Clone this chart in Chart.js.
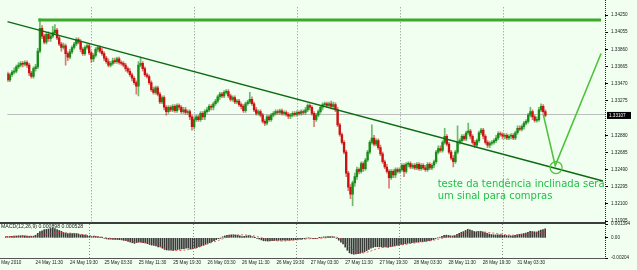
<!DOCTYPE html>
<html>
<head>
<meta charset="utf-8">
<script src="https://cdn.jsdelivr.net/npm/chart.js@4.4.1/dist/chart.umd.min.js"></script>
<style>
  html, body { margin: 0; padding: 0; background: #F0FFF0; }
  #wrap { position: relative; width: 637px; height: 270px; overflow: hidden; }
  #wrap canvas { position: absolute; left: 0; top: 0; }
</style>
</head>
<body>
<div id="wrap">
  <canvas id="price" width="637" height="270"></canvas>
  <canvas id="macd" width="637" height="270"></canvas>
</div>
<script>
// M30 candles, 24 May 2010 04:30 .. 31 May 2010
var opens = [
  1.3358,1.3351,1.3357,1.3360,1.3361,1.3366,1.3368,1.3370,1.3369,1.3371,
  1.3368,1.3359,1.3355,1.3364,1.3366,1.3384,1.3410,1.3401,1.3394,1.3403,
  1.3398,1.3401,1.3405,1.3408,1.3399,1.3392,1.3388,1.3390,1.3381,1.3377,
  1.3383,1.3388,1.3392,1.3397,1.3394,1.3386,1.3381,1.3388,1.3390,1.3382,
  1.3375,1.3379,1.3386,1.3388,1.3384,1.3381,1.3376,1.3372,1.3368,1.3370,
  1.3373,1.3372,1.3375,1.3371,1.3370,1.3368,1.3364,1.3361,1.3357,1.3353,
  1.3348,1.3344,1.3368,1.3370,1.3364,1.3357,1.3355,1.3348,1.3340,1.3337,
  1.3342,1.3335,1.3326,1.3331,1.3320,1.3315,1.3320,1.3317,1.3321,1.3316,
  1.3322,1.3320,1.3315,1.3317,1.3314,1.3315,1.3309,1.3298,1.3306,1.3309,
  1.3306,1.3313,1.3309,1.3315,1.3317,1.3321,1.3320,1.3324,1.3327,1.3332,
  1.3335,1.3333,1.3337,1.3338,1.3333,1.3329,1.3331,1.3326,1.3327,1.3323,
  1.3321,1.3316,1.3324,1.3326,1.3329,1.3324,1.3317,1.3313,1.3315,1.3311,
  1.3304,1.3302,1.3309,1.3306,1.3311,1.3313,1.3315,1.3314,1.3316,1.3313,
  1.3314,1.3312,1.3310,1.3311,1.3313,1.3312,1.3314,1.3313,1.3315,1.3314,
  1.3317,1.3322,1.3320,1.3313,1.3306,1.3311,1.3315,1.3320,1.3323,1.3324,
  1.3322,1.3324,1.3321,1.3323,1.3317,1.3300,1.3289,1.3280,1.3269,1.3245,
  1.3229,1.3221,1.3234,1.3241,1.3249,1.3247,1.3256,1.3250,1.3260,1.3269,
  1.3280,1.3285,1.3278,1.3282,1.3274,1.3267,1.3258,1.3252,1.3247,1.3240,
  1.3247,1.3243,1.3249,1.3247,1.3249,1.3254,1.3247,1.3255,1.3256,1.3252,
  1.3254,1.3251,1.3255,1.3250,1.3254,1.3251,1.3249,1.3255,1.3251,1.3254,
  1.3258,1.3269,1.3273,1.3271,1.3280,1.3287,1.3278,1.3269,1.3262,1.3258,
  1.3269,1.3280,1.3282,1.3287,1.3284,1.3291,1.3293,1.3287,1.3280,1.3277,
  1.3282,1.3291,1.3294,1.3287,1.3280,1.3277,1.3279,1.3280,1.3282,1.3285,
  1.3290,1.3289,1.3287,1.3288,1.3285,1.3287,1.3288,1.3285,1.3291,1.3296,
  1.3295,1.3298,1.3302,1.3304,1.3311,1.3315,1.3309,1.3305,1.3306,1.3317,
  1.3321,1.3315
];
var highs = [
  1.3360,1.3359,1.3362,1.3365,1.3368,1.3371,1.3372,1.3372,1.3373,1.3373,
  1.3370,1.3361,1.3366,1.3369,1.3387,1.3421,1.3413,1.3403,1.3405,1.3406,
  1.3404,1.3412,1.3414,1.3410,1.3401,1.3394,1.3393,1.3392,1.3383,1.3386,
  1.3390,1.3394,1.3399,1.3399,1.3397,1.3388,1.3390,1.3392,1.3392,1.3384,
  1.3381,1.3388,1.3390,1.3390,1.3387,1.3383,1.3378,1.3375,1.3372,1.3376,
  1.3376,1.3377,1.3377,1.3373,1.3372,1.3370,1.3366,1.3364,1.3359,1.3355,
  1.3350,1.3372,1.3377,1.3372,1.3366,1.3359,1.3357,1.3350,1.3343,1.3344,
  1.3344,1.3337,1.3333,1.3333,1.3322,1.3322,1.3322,1.3323,1.3323,1.3324,
  1.3324,1.3322,1.3320,1.3320,1.3317,1.3317,1.3311,1.3309,1.3311,1.3311,
  1.3315,1.3315,1.3317,1.3320,1.3323,1.3323,1.3326,1.3329,1.3334,1.3337,
  1.3337,1.3339,1.3340,1.3340,1.3335,1.3333,1.3333,1.3329,1.3329,1.3325,
  1.3323,1.3326,1.3328,1.3337,1.3332,1.3326,1.3320,1.3317,1.3317,1.3313,
  1.3306,1.3311,1.3311,1.3313,1.3315,1.3317,1.3317,1.3318,1.3318,1.3316,
  1.3316,1.3314,1.3313,1.3315,1.3315,1.3316,1.3316,1.3317,1.3317,1.3320,
  1.3324,1.3324,1.3322,1.3315,1.3313,1.3317,1.3322,1.3325,1.3326,1.3326,
  1.3326,1.3327,1.3326,1.3325,1.3320,1.3302,1.3291,1.3282,1.3271,1.3247,
  1.3232,1.3236,1.3245,1.3252,1.3251,1.3258,1.3258,1.3262,1.3271,1.3282,
  1.3300,1.3288,1.3284,1.3284,1.3277,1.3269,1.3260,1.3255,1.3249,1.3249,
  1.3249,1.3251,1.3251,1.3251,1.3256,1.3256,1.3257,1.3258,1.3258,1.3256,
  1.3256,1.3257,1.3257,1.3256,1.3256,1.3254,1.3257,1.3257,1.3256,1.3260,
  1.3271,1.3276,1.3276,1.3282,1.3296,1.3289,1.3280,1.3271,1.3265,1.3271,
  1.3299,1.3284,1.3289,1.3289,1.3293,1.3302,1.3295,1.3289,1.3282,1.3284,
  1.3293,1.3296,1.3296,1.3289,1.3282,1.3281,1.3282,1.3284,1.3288,1.3292,
  1.3292,1.3291,1.3290,1.3290,1.3289,1.3290,1.3290,1.3293,1.3299,1.3299,
  1.3300,1.3304,1.3306,1.3313,1.3320,1.3317,1.3311,1.3309,1.3320,1.3324,
  1.3323,1.3317
];
var lows = [
  1.3349,1.3349,1.3355,1.3358,1.3359,1.3364,1.3366,1.3366,1.3367,1.3365,
  1.3356,1.3353,1.3353,1.3361,1.3364,1.3382,1.3398,1.3392,1.3392,1.3395,
  1.3395,1.3399,1.3403,1.3397,1.3390,1.3384,1.3386,1.3368,1.3373,1.3375,
  1.3381,1.3386,1.3390,1.3392,1.3383,1.3379,1.3379,1.3386,1.3380,1.3371,
  1.3372,1.3377,1.3383,1.3382,1.3379,1.3373,1.3370,1.3366,1.3366,1.3368,
  1.3370,1.3370,1.3369,1.3368,1.3366,1.3361,1.3359,1.3355,1.3350,1.3346,
  1.3335,1.3333,1.3366,1.3361,1.3355,1.3353,1.3346,1.3338,1.3335,1.3335,
  1.3333,1.3324,1.3324,1.3317,1.3311,1.3313,1.3315,1.3315,1.3314,1.3314,
  1.3317,1.3313,1.3313,1.3312,1.3312,1.3306,1.3294,1.3295,1.3304,1.3304,
  1.3304,1.3306,1.3306,1.3313,1.3315,1.3317,1.3317,1.3322,1.3325,1.3329,
  1.3331,1.3331,1.3335,1.3331,1.3327,1.3327,1.3324,1.3324,1.3321,1.3318,
  1.3314,1.3314,1.3322,1.3324,1.3322,1.3315,1.3311,1.3311,1.3309,1.3302,
  1.3299,1.3300,1.3304,1.3304,1.3309,1.3311,1.3312,1.3312,1.3311,1.3311,
  1.3310,1.3307,1.3307,1.3309,1.3310,1.3310,1.3311,1.3311,1.3312,1.3312,
  1.3315,1.3317,1.3311,1.3298,1.3304,1.3309,1.3313,1.3317,1.3321,1.3320,
  1.3320,1.3318,1.3318,1.3315,1.3298,1.3287,1.3278,1.3267,1.3241,1.3225,
  1.3216,1.3208,1.3230,1.3238,1.3244,1.3245,1.3247,1.3248,1.3258,1.3267,
  1.3278,1.3276,1.3276,1.3272,1.3265,1.3256,1.3250,1.3245,1.3228,1.3238,
  1.3240,1.3240,1.3245,1.3245,1.3247,1.3241,1.3245,1.3252,1.3250,1.3250,
  1.3249,1.3249,1.3248,1.3248,1.3249,1.3247,1.3247,1.3249,1.3249,1.3251,
  1.3256,1.3267,1.3269,1.3269,1.3278,1.3276,1.3267,1.3260,1.3252,1.3256,
  1.3267,1.3278,1.3280,1.3282,1.3282,1.3289,1.3284,1.3278,1.3274,1.3274,
  1.3280,1.3289,1.3284,1.3278,1.3274,1.3274,1.3277,1.3278,1.3280,1.3283,
  1.3287,1.3284,1.3284,1.3283,1.3283,1.3284,1.3283,1.3283,1.3289,1.3293,
  1.3293,1.3295,1.3300,1.3302,1.3309,1.3306,1.3303,1.3303,1.3304,1.3315,
  1.3313,1.3309
];
var closes = [
  1.3351,1.3357,1.3360,1.3361,1.3366,1.3368,1.3370,1.3369,1.3371,1.3368,
  1.3359,1.3355,1.3364,1.3366,1.3384,1.3410,1.3401,1.3394,1.3403,1.3398,
  1.3401,1.3405,1.3408,1.3399,1.3392,1.3388,1.3390,1.3381,1.3377,1.3383,
  1.3388,1.3392,1.3397,1.3394,1.3386,1.3381,1.3388,1.3390,1.3382,1.3375,
  1.3379,1.3386,1.3388,1.3384,1.3381,1.3376,1.3372,1.3368,1.3370,1.3373,
  1.3372,1.3375,1.3371,1.3370,1.3368,1.3364,1.3361,1.3357,1.3353,1.3348,
  1.3344,1.3368,1.3370,1.3364,1.3357,1.3355,1.3348,1.3340,1.3337,1.3342,
  1.3335,1.3326,1.3331,1.3320,1.3315,1.3320,1.3317,1.3321,1.3316,1.3322,
  1.3320,1.3315,1.3317,1.3314,1.3315,1.3309,1.3298,1.3306,1.3309,1.3306,
  1.3313,1.3309,1.3315,1.3317,1.3321,1.3320,1.3324,1.3327,1.3332,1.3335,
  1.3333,1.3337,1.3338,1.3333,1.3329,1.3331,1.3326,1.3327,1.3323,1.3321,
  1.3316,1.3324,1.3326,1.3329,1.3324,1.3317,1.3313,1.3315,1.3311,1.3304,
  1.3302,1.3309,1.3306,1.3311,1.3313,1.3315,1.3314,1.3316,1.3313,1.3314,
  1.3312,1.3310,1.3311,1.3313,1.3312,1.3314,1.3313,1.3315,1.3314,1.3317,
  1.3322,1.3320,1.3313,1.3306,1.3311,1.3315,1.3320,1.3323,1.3324,1.3322,
  1.3324,1.3321,1.3323,1.3317,1.3300,1.3289,1.3280,1.3269,1.3245,1.3229,
  1.3221,1.3234,1.3241,1.3249,1.3247,1.3256,1.3250,1.3260,1.3269,1.3280,
  1.3285,1.3278,1.3282,1.3274,1.3267,1.3258,1.3252,1.3247,1.3240,1.3247,
  1.3243,1.3249,1.3247,1.3249,1.3254,1.3247,1.3255,1.3256,1.3252,1.3254,
  1.3251,1.3255,1.3250,1.3254,1.3251,1.3249,1.3255,1.3251,1.3254,1.3258,
  1.3269,1.3273,1.3271,1.3280,1.3287,1.3278,1.3269,1.3262,1.3258,1.3269,
  1.3280,1.3282,1.3287,1.3284,1.3291,1.3293,1.3287,1.3280,1.3277,1.3282,
  1.3291,1.3294,1.3287,1.3280,1.3277,1.3279,1.3280,1.3282,1.3285,1.3290,
  1.3289,1.3287,1.3288,1.3285,1.3287,1.3288,1.3285,1.3291,1.3296,1.3295,
  1.3298,1.3302,1.3304,1.3311,1.3315,1.3309,1.3305,1.3306,1.3317,1.3321,
  1.3315,1.33107
];

// MACD(12,26,9), values in units of 0.0001
var macdMain = [
  1.0,1.2,1.3,1.5,1.7,1.8,2.0,2.1,2.2,2.1,
  1.8,1.4,1.5,1.6,2.6,4.5,6.2,7.0,8.2,8.5,
  8.9,9.4,9.8,9.2,8.3,7.4,6.5,5.3,4.5,4.3,
  4.2,4.3,4.4,4.2,3.6,3.0,2.9,2.7,2.2,1.4,
  1.3,1.5,1.4,1.1,0.7,0.1,-0.5,-1.1,-1.4,-1.5,
  -1.6,-1.7,-1.8,-1.9,-2.1,-2.6,-3.0,-3.6,-4.3,-5.0,
  -5.6,-4.8,-4.3,-4.4,-4.8,-5.2,-5.9,-6.8,-7.4,-7.6,
  -8.2,-9.1,-9.2,-10.5,-11.8,-12.3,-12.6,-12.6,-12.8,-12.3,
  -11.8,-11.6,-11.2,-11.0,-10.5,-10.4,-11.3,-10.9,-10.4,-9.9,
  -8.9,-8.3,-7.5,-6.6,-5.7,-4.9,-4.0,-3.0,-1.9,-0.9,
  -0.3,1.0,1.9,2.4,2.7,3.0,3.1,2.9,2.5,2.0,
  1.3,1.5,1.8,2.2,1.7,1.0,0.1,-0.5,-1.2,-2.1,
  -3.0,-3.1,-3.3,-3.2,-3.0,-2.8,-2.6,-2.5,-2.5,-2.4,
  -2.4,-2.5,-2.4,-2.2,-2.0,-1.8,-1.6,-1.4,-1.2,-0.9,
  -0.3,0.0,-0.4,-1.0,-0.9,-0.5,0.1,0.6,0.9,1.1,
  1.3,1.2,1.2,0.8,-0.6,-2.4,-4.3,-6.3,-9.4,-12.6,
  -15.2,-16.2,-16.6,-16.3,-16.0,-15.5,-14.8,-14.0,-12.9,-11.7,
  -10.4,-9.8,-9.0,-9.0,-9.0,-9.2,-9.3,-9.3,-9.6,-9.0,
  -8.6,-8.0,-7.6,-7.2,-6.7,-6.6,-6.0,-5.6,-5.3,-5.0,
  -4.7,-4.3,-4.1,-3.8,-3.9,-3.6,-3.1,-2.8,-2.4,-1.8,
  -0.8,0.0,0.6,1.5,2.5,2.7,2.4,2.0,1.7,2.2,
  3.6,4.6,5.6,6.3,7.4,8.6,8.0,7.2,6.3,6.0,
  6.4,6.6,6.0,5.2,4.4,3.8,3.3,3.0,2.9,3.0,
  2.9,2.7,2.5,2.3,2.1,2.0,1.9,2.4,3.1,3.5,
  3.8,4.3,4.8,5.6,6.5,6.3,6.1,5.9,6.9,7.8,
  8.3,8.98
];
var macdSignal = [
  1.3,1.3,1.3,1.4,1.4,1.4,1.5,1.5,1.6,1.6,
  1.6,1.6,1.6,1.6,1.8,2.2,2.5,2.8,3.1,3.5,
  3.9,4.2,4.6,4.9,5.1,5.3,5.3,5.2,5.1,4.9,
  4.7,4.5,4.3,4.1,3.9,3.6,3.3,3.0,2.7,2.4,
  2.0,1.7,1.5,1.2,0.9,0.6,0.3,0.0,-0.3,-0.6,
  -0.8,-1.0,-1.2,-1.4,-1.6,-2.0,-2.4,-2.8,-3.3,-3.8,
  -4.2,-4.4,-4.5,-4.6,-4.7,-4.9,-5.2,-5.6,-6.0,-6.5,
  -7.4,-8.2,-9.0,-9.8,-10.6,-11.3,-11.8,-12.2,-12.5,-12.7,
  -12.8,-12.8,-12.7,-12.5,-12.2,-11.9,-11.6,-11.2,-10.7,-10.1,
  -9.4,-8.7,-7.9,-7.1,-6.3,-5.5,-4.7,-3.9,-3.5,-2.7,
  -1.9,-1.1,-0.3,0.5,1.2,1.7,2.1,2.4,2.8,3.0,
  3.0,2.9,2.8,2.6,2.4,2.1,1.7,1.2,0.7,0.1,
  -0.5,-1.0,-1.5,-1.9,-2.3,-2.6,-3.0,-3.2,-3.3,-3.3,
  -3.2,-3.0,-2.8,-2.6,-2.4,-2.2,-2.0,-1.8,-1.6,-1.4,
  -1.2,-1.0,-0.9,-0.8,-0.8,-0.8,-0.7,-0.5,-0.3,0.0,
  0.3,0.5,0.7,0.8,0.6,0.0,-1.0,-2.4,-4.2,-6.4,
  -8.7,-11.0,-13.0,-14.5,-15.2,-15.5,-15.4,-15.1,-14.6,-14.0,
  -13.3,-12.5,-11.7,-11.0,-10.4,-9.9,-9.5,-9.2,-9.0,-8.8,
  -8.6,-8.3,-8.0,-7.6,-7.3,-7.0,-6.6,-6.3,-5.9,-5.6,
  -5.3,-5.0,-4.7,-4.4,-4.1,-3.8,-3.5,-3.2,-2.9,-2.4,
  -2.0,-1.5,-1.0,-0.5,0.1,0.7,1.2,1.6,1.9,2.2,
  2.6,3.1,3.6,4.2,4.8,5.4,5.9,6.2,6.3,6.3,
  6.2,6.1,6.0,5.8,5.6,5.3,5.0,4.7,4.4,4.1,
  3.8,3.5,3.3,3.1,2.9,2.8,2.7,2.7,2.8,2.9,
  3.1,3.4,3.7,4.0,4.3,4.6,4.8,5.0,5.1,5.2,
  5.25,5.28
];
var MACD_UNIT = 0.0001;
var macdTitle = 'MACD(12,26,9) 0.000898 0.000528';

// axis labels
var tickLabels = ['24 May 2010', '24 May 11:30', '24 May 19:30', '25 May 03:30', '25 May 11:30', '25 May 19:30',
  '26 May 03:30', '26 May 11:30', '26 May 19:30', '27 May 03:30', '27 May 11:30', '27 May 19:30',
  '28 May 03:30', '28 May 11:30', '28 May 19:30', '31 May 03:30'];
var tickIndex = [-5, 14, 30, 46, 62, 78, 94, 110, 126, 142, 158, 174, 190, 206, 222, 238];
var gridIndex = [39, 87, 135, 183, 231];
var priceTicks = [1.34250, 1.34055, 1.33860, 1.33665, 1.33470, 1.33275,
  1.32880, 1.32685, 1.32490, 1.32295, 1.32100, 1.31905];
var currentPrice = 1.33107;
var macdTicks = [0.001394, 0, -0.00204];
var macdTickLabels = ['0.001394', '0.00', '-0.00204'];

// drawn objects (bar index, price)
var resistanceLine = [{ x: 14.2, y: 1.34194 }, { x: 277, y: 1.34194 }];
var trendLine = [{ x: -0.23, y: 1.34175 }, { x: 277.9, y: 1.32360 }];
var projectionLine = [{ x: 250, y: 1.33119 }, { x: 255.6, y: 1.32536 }, { x: 277, y: 1.33812 }];
var targetPoint = [{ x: 256, y: 1.32514 }];
var note = { x: 200.7, y: 1.32294, lines: ['teste da tendência inclinada sera', 'um sinal para compras'] };

var X_MIN = -0.23, X_MAX = 278.84;
var TINY = "4.6px 'Liberation Sans', Arial, sans-serif";

Chart.defaults.font.family = "'Liberation Sans', Arial, sans-serif";

function isUp(i) { return closes[i] >= opens[i]; }

var bodyData = opens.map(function (o, i) { return { x: i, y: [o, closes[i]] }; });
var wickData = highs.map(function (h, i) { return { x: i, y: [lows[i], h] }; });

function drawGrid(chart, top, bottom) {
  var ctx = chart.ctx, xs = chart.scales.x;
  ctx.save();
  ctx.strokeStyle = '#8c8c8c';
  ctx.lineWidth = 1;
  ctx.setLineDash([1, 2]);
  gridIndex.forEach(function (g) {
    var x = Math.round(xs.getPixelForValue(g)) + 0.5;
    ctx.beginPath(); ctx.moveTo(x, top); ctx.lineTo(x, bottom); ctx.stroke();
  });
  ctx.restore();
}

var pricePane = {
  id: 'pricePane',
  beforeDatasetsDraw: function (chart) {
    var a = chart.chartArea, ctx = chart.ctx;
    drawGrid(chart, a.top, a.bottom);
    var py = Math.round(chart.scales.y.getPixelForValue(currentPrice)) - 0.5;
    ctx.save();
    ctx.strokeStyle = '#BDBDBD';
    ctx.lineWidth = 1;
    ctx.beginPath(); ctx.moveTo(a.left, py); ctx.lineTo(a.right, py); ctx.stroke();
    ctx.restore();
  },
  afterDraw: function (chart) {
    var a = chart.chartArea, ctx = chart.ctx, xs = chart.scales.x, ys = chart.scales.y;
    ctx.save();
    // current price box
    var py = ys.getPixelForValue(currentPrice);
    ctx.fillStyle = '#000';
    ctx.fillRect(a.right + 2, py - 3.5, 24, 7);
    ctx.fillStyle = '#fff';
    ctx.font = TINY;
    ctx.textBaseline = 'middle';
    ctx.fillText(currentPrice.toFixed(5), a.right + 4, py);
    // pane separator
    ctx.fillStyle = '#3c3c3c';
    ctx.fillRect(0, a.bottom, a.right + 1, 2);
    // annotation
    ctx.fillStyle = '#22BE48';
    ctx.font = "10px 'DejaVu Sans', sans-serif";
    ctx.textBaseline = 'alphabetic';
    var nx = xs.getPixelForValue(note.x), ny = ys.getPixelForValue(note.y);
    note.lines.forEach(function (t, k) { ctx.fillText(t, nx, ny + k * 12.5); });
    ctx.restore();
  }
};

var macdPane = {
  id: 'macdPane',
  beforeDatasetsDraw: function (chart) {
    var a = chart.chartArea;
    drawGrid(chart, a.top, a.bottom);
  },
  afterDraw: function (chart) {
    var a = chart.chartArea, ctx = chart.ctx, xs = chart.scales.x;
    ctx.save();
    // price axis (dotted) through both panes
    ctx.strokeStyle = '#222';
    ctx.lineWidth = 1;
    ctx.setLineDash([1, 1]);
    ctx.beginPath(); ctx.moveTo(a.right + 0.5, 0); ctx.lineTo(a.right + 0.5, a.bottom); ctx.stroke();
    ctx.setLineDash([]);
    ctx.strokeStyle = '#555';
    ctx.beginPath(); ctx.moveTo(0, a.bottom + 0.5); ctx.lineTo(a.right, a.bottom + 0.5); ctx.stroke();
    // time labels
    ctx.fillStyle = '#222';
    ctx.font = TINY;
    ctx.textBaseline = 'middle';
    ctx.textAlign = 'left';
    tickIndex.forEach(function (t, k) {
      ctx.fillText(tickLabels[k], xs.getPixelForValue(t), a.bottom + 5);
    });
    ctx.font = "5.2px 'Liberation Sans', Arial, sans-serif";
    ctx.fillText(macdTitle, 1, a.top + 3);
    ctx.restore();
  }
};

var xAxis = { type: 'linear', min: X_MIN, max: X_MAX, display: false, offset: false };

function yAxis(extra) {
  var base = {
    position: 'right',
    afterFit: function (s) { s.width = 32; s.paddingTop = 0; s.paddingBottom = 0; },
    ticks: { autoSkip: false, padding: 3, color: '#222', font: { size: 4.6 } },
    grid: { drawOnChartArea: false, drawTicks: true, tickLength: 3, color: '#000' },
    border: { display: false }
  };
  return Object.assign(base, extra);
}

new Chart(document.getElementById('price'), {
  type: 'bar',
  data: {
    datasets: [
      { type: 'line', data: targetPoint, showLine: false, pointRadius: 6, pointBorderWidth: 1.3,
        pointBorderColor: '#52C23C', pointBackgroundColor: 'rgba(0,0,0,0)', order: 0 },
      { type: 'line', data: projectionLine, borderColor: '#52C23C', borderWidth: 1.6, pointRadius: 0, order: 1 },
      { type: 'line', data: trendLine, borderColor: '#0E6A12', borderWidth: 1.5, pointRadius: 0, order: 1 },
      { type: 'line', data: resistanceLine, borderColor: '#3BAA2B', borderWidth: 3, pointRadius: 0, order: 1 },
      { data: bodyData, barThickness: 1.7, grouped: false, minBarLength: 1, order: 3,
        backgroundColor: function (c) { return isUp(c.dataIndex) ? '#178C17' : '#CC1111'; } },
      { data: wickData, barThickness: 1, grouped: false, order: 4,
        backgroundColor: function (c) { return isUp(c.dataIndex) ? 'rgba(23,140,23,0.6)' : 'rgba(204,17,17,0.55)'; } }
    ]
  },
  options: {
    responsive: false,
    devicePixelRatio: 1,
    animation: false,
    events: [],
    layout: { padding: { left: 5, top: 0, right: 0, bottom: 48 } },
    plugins: { legend: { display: false }, tooltip: { enabled: false } },
    scales: {
      x: xAxis,
      y: yAxis({
        min: 1.31894, max: 1.34338,
        afterBuildTicks: function (s) { s.ticks = priceTicks.map(function (v) { return { value: v }; }); },
        ticks: { autoSkip: false, padding: 3, color: '#222', font: { size: 4.6 },
          callback: function (v) { return v.toFixed(5); } }
      })
    }
  },
  plugins: [pricePane]
});

new Chart(document.getElementById('macd'), {
  type: 'bar',
  data: {
    datasets: [
      { type: 'line', data: macdSignal.map(function (v, i) { return { x: i, y: v * MACD_UNIT }; }),
        borderColor: 'rgba(230,60,60,0.85)', borderWidth: 1, borderDash: [2, 2], pointRadius: 0, order: 0 },
      { data: macdMain.map(function (v, i) { return { x: i, y: v * MACD_UNIT }; }),
        barThickness: 1, grouped: false, backgroundColor: 'rgba(25,25,25,0.85)', order: 1 }
    ]
  },
  options: {
    responsive: false,
    devicePixelRatio: 1,
    animation: false,
    events: [],
    layout: { padding: { left: 5, top: 224, right: 0, bottom: 12 } },
    plugins: { legend: { display: false }, tooltip: { enabled: false } },
    scales: {
      x: xAxis,
      y: yAxis({
        min: -0.00204, max: 0.001394,
        afterBuildTicks: function (s) { s.ticks = macdTicks.map(function (v) { return { value: v }; }); },
        ticks: { autoSkip: false, padding: 3, color: '#222', font: { size: 4.6 },
          callback: function (v, i) { return macdTickLabels[i]; } }
      })
    }
  },
  plugins: [macdPane]
});
</script>
</body>
</html>
